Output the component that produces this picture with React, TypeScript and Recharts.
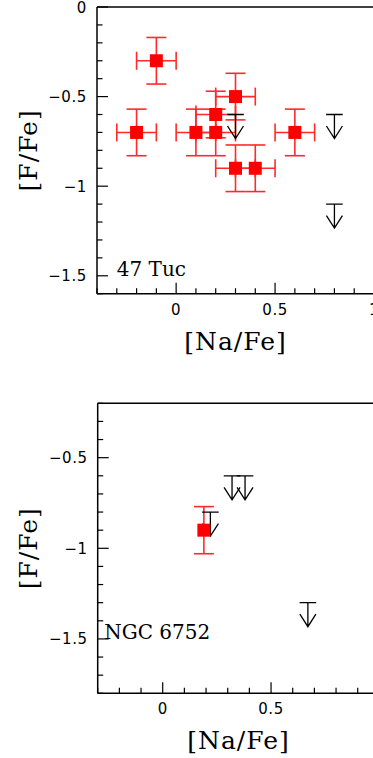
import React from "react"
import { ScatterChart, Scatter, XAxis, YAxis, ErrorBar, ReferenceDot } from "recharts"

// 47 Tuc: measured points
const tucNa = [-0.1, -0.2, 0.1, 0.2, 0.2, 0.3, 0.3, 0.4, 0.6]
const tucF = [-0.3, -0.7, -0.7, -0.7, -0.6, -0.5, -0.9, -0.9, -0.7]
const tucNaErr = [0.1, 0.1, 0.1, 0.1, 0.1, 0.1, 0.1, 0.1, 0.1]
const tucFErr = [0.13, 0.13, 0.13, 0.13, 0.13, 0.13, 0.13, 0.13, 0.13]
// 47 Tuc: upper limits
const tucLimNa = [0.3, 0.8, 0.8]
const tucLimF = [-0.6, -0.6, -1.1]

// NGC 6752
const ngcNa = [0.19]
const ngcF = [-0.9]
const ngcFErr = [0.13]
const ngcLimNa = [0.22, 0.32, 0.38, 0.67]
const ngcLimF = [-0.8, -0.6, -0.6, -1.3]

// ticks (every 0.1, labels on multiples of 0.5)
const tucXTicks = [-0.4, -0.3, -0.2, -0.1, 0, 0.1, 0.2, 0.3, 0.4, 0.5, 0.6, 0.7, 0.8, 0.9, 1.0]
const tucYTicks = [0, -0.1, -0.2, -0.3, -0.4, -0.5, -0.6, -0.7, -0.8, -0.9, -1.0, -1.1, -1.2, -1.3, -1.4, -1.5, -1.6]
const ngcXTicks = [-0.3, -0.2, -0.1, 0, 0.1, 0.2, 0.3, 0.4, 0.5, 0.6, 0.7, 0.8, 0.9, 1.0]
const ngcYTicks = [-0.2, -0.3, -0.4, -0.5, -0.6, -0.7, -0.8, -0.9, -1.0, -1.1, -1.2, -1.3, -1.4, -1.5, -1.6, -1.7, -1.8]
// labelled ticks
const tucXLabels = [0, 0.5, 1]
const tucYLabels = [0, -0.5, -1, -1.5]
const ngcXLabels = [0, 0.5]
const ngcYLabels = [-0.5, -1, -1.5]

const tucLabel = { text: "47 Tuc", x: -0.3, y: -1.5 }
const ngcLabel = { text: "NGC 6752", x: -0.27, y: -1.5 }

const RED = "#ff0000"
const ERR = "#ff2a2a"
const TICK_FONT = "'DejaVu Sans', sans-serif"
const TITLE_FONT = "'DejaVu Serif', serif"

const isMajor = (v: number) => Math.abs(v / 0.5 - Math.round(v / 0.5)) < 1e-6
const has = (list: number[], v: number) => list.some((l) => Math.abs(l - v) < 1e-6)
const fmt = (v: number) => (Math.abs(v) < 1e-9 ? "0" : v < 0 ? `\u2212${Math.abs(v)}` : String(v))

function Tick(props: any) {
  const { x, y, payload, side, labels } = props
  const v = payload.value as number
  const len = isMajor(v) ? 11 : 5.5
  const st = { stroke: "#000", strokeWidth: 1.2 }
  const showLabel = labels && has(labels, v)
  const txt = { fontFamily: TICK_FONT, fontSize: 15, letterSpacing: 0.6, fill: "#000" }
  if (side === "bottom") {
    return (
      <g>
        <line x1={x} y1={y} x2={x} y2={y - len} {...st} />
        {showLabel && <text x={x} y={y + 21} textAnchor="middle" {...txt}>{fmt(v)}</text>}
      </g>
    )
  }
  if (side === "top") return <line x1={x} y1={y} x2={x} y2={y + len} {...st} />
  if (side === "left") {
    return (
      <g>
        <line x1={x} y1={y} x2={x + len} y2={y} {...st} />
        {showLabel && <text x={x - 10} y={y + 5.5} textAnchor="end" {...txt}>{fmt(v)}</text>}
      </g>
    )
  }
  return <line x1={x} y1={y} x2={x - len} y2={y} {...st} />
}

function Square(p: any) {
  return <rect x={p.cx - 6.5} y={p.cy - 6.5} width={13} height={13} fill={RED} />
}

function LimitArrow(p: any) {
  const { cx, cy } = p
  const d = `M${cx - 8.3},${cy} H${cx + 8.3} M${cx},${cy} V${cy + 24} M${cx - 8},${cy + 11.5} L${cx},${cy + 24} L${cx + 8},${cy + 11.5}`
  return <path d={d} fill="none" stroke="#000" strokeWidth={1.3} />
}

function Panel(props: {
  width: number; height: number; leftW: number; topH: number; bottomH: number
  xDomain: [number, number]; yDomain: [number, number]; xTicks: number[]; yTicks: number[]
  xLabels: number[]; yLabels: number[]
  pts: { x: number; y: number; ex?: number; ey: number }[]; lims: { x: number; y: number }[]
  label: { text: string; x: number; y: number }; xErr: boolean
}) {
  const { width, height, leftW, topH, bottomH, xDomain, yDomain, xTicks, yTicks, xLabels, yLabels, pts, lims, label, xErr } = props
  const axisLine = { stroke: "#000", strokeWidth: 1.5 }
  return (
    <ScatterChart width={width} height={height} margin={{ top: 0, right: 0, bottom: 0, left: 0 }}>
      <XAxis xAxisId="b" type="number" dataKey="x" domain={xDomain} ticks={xTicks} interval={0}
        height={bottomH} tickSize={0} tickMargin={0} tickLine={false} axisLine={axisLine}
        tick={(t: any) => <Tick {...t} side="bottom" labels={xLabels} />}
        label={{
          content: ({ viewBox }: any) => (
            <text x={viewBox.x + viewBox.width / 2} y={viewBox.y + 56} textAnchor="middle"
              fontFamily={TITLE_FONT} fontSize={25} letterSpacing={1} fill="#000">[Na/Fe]</text>
          ),
        }} />
      <XAxis xAxisId="t" orientation="top" type="number" domain={xDomain} ticks={xTicks} interval={0}
        height={topH} tickSize={0} tickMargin={0} tickLine={false} axisLine={axisLine}
        tick={(t: any) => <Tick {...t} side="top" />} />
      <YAxis yAxisId="l" type="number" dataKey="y" domain={yDomain} ticks={yTicks} interval={0}
        width={leftW} tickSize={0} tickMargin={0} tickLine={false} axisLine={axisLine}
        tick={(t: any) => <Tick {...t} side="left" labels={yLabels} />}
        label={{
          content: ({ viewBox }: any) => {
            const cx = viewBox.x + 37
            const cy = viewBox.y + viewBox.height / 2
            return (
              <text x={cx} y={cy} transform={`rotate(-90, ${cx}, ${cy})`} textAnchor="middle"
                fontFamily={TITLE_FONT} fontSize={25} letterSpacing={1} fill="#000">[F/Fe]</text>
            )
          },
        }} />
      <YAxis yAxisId="r" orientation="right" type="number" domain={yDomain} ticks={yTicks} interval={0}
        width={6} tickSize={0} tickMargin={0} tickLine={false} axisLine={axisLine}
        tick={(t: any) => <Tick {...t} side="right" />} />
      <ReferenceDot xAxisId="b" yAxisId="l" x={label.x} y={label.y} r={0}
        shape={(p: any) => (
          <text x={p.cx} y={p.cy} fontFamily={TITLE_FONT} fontSize={20} fill="#000">{label.text}</text>
        )} />
      <Scatter xAxisId="b" yAxisId="l" data={lims} shape={LimitArrow} isAnimationActive={false} />
      <Scatter xAxisId="b" yAxisId="l" data={pts} shape={Square} isAnimationActive={false}>
        {xErr && <ErrorBar dataKey="ex" direction="x" width={9} stroke={ERR} strokeWidth={1.6} />}
        <ErrorBar dataKey="ey" direction="y" width={10} stroke={ERR} strokeWidth={1.6} />
      </Scatter>
    </ScatterChart>
  )
}

export default function App() {
  const tucPts = tucNa.map((x, i) => ({ x, y: tucF[i], ex: tucNaErr[i], ey: tucFErr[i] }))
  const tucLims = tucLimNa.map((x, i) => ({ x, y: tucLimF[i] }))
  const ngcPts = ngcNa.map((x, i) => ({ x, y: ngcF[i], ey: ngcFErr[i] }))
  const ngcLims = ngcLimNa.map((x, i) => ({ x, y: ngcLimF[i] }))
  return (
    <div style={{ position: "absolute", left: 0, top: 0, width: 373, height: 758, overflow: "hidden", background: "#fff" }}>
      <div style={{ position: "absolute", left: 0, top: 0 }}>
        <Panel width={380} height={370} leftW={97} topH={7} bottomH={76.3}
          xDomain={[-0.4, 1.0]} yDomain={[-1.6, 0]} xTicks={tucXTicks} yTicks={tucYTicks}
          xLabels={tucXLabels} yLabels={tucYLabels}
          pts={tucPts} lims={tucLims} label={tucLabel} xErr />
      </div>
      <div style={{ position: "absolute", left: 0, top: 396 }}>
        <Panel width={385.4} height={367} leftW={97.7} topH={7.3} bottomH={69.7}
          xDomain={[-0.3, 1.0]} yDomain={[-1.8, -0.2]} xTicks={ngcXTicks} yTicks={ngcYTicks}
          xLabels={ngcXLabels} yLabels={ngcYLabels}
          pts={ngcPts} lims={ngcLims} label={ngcLabel} xErr={false} />
      </div>
    </div>
  )
}
